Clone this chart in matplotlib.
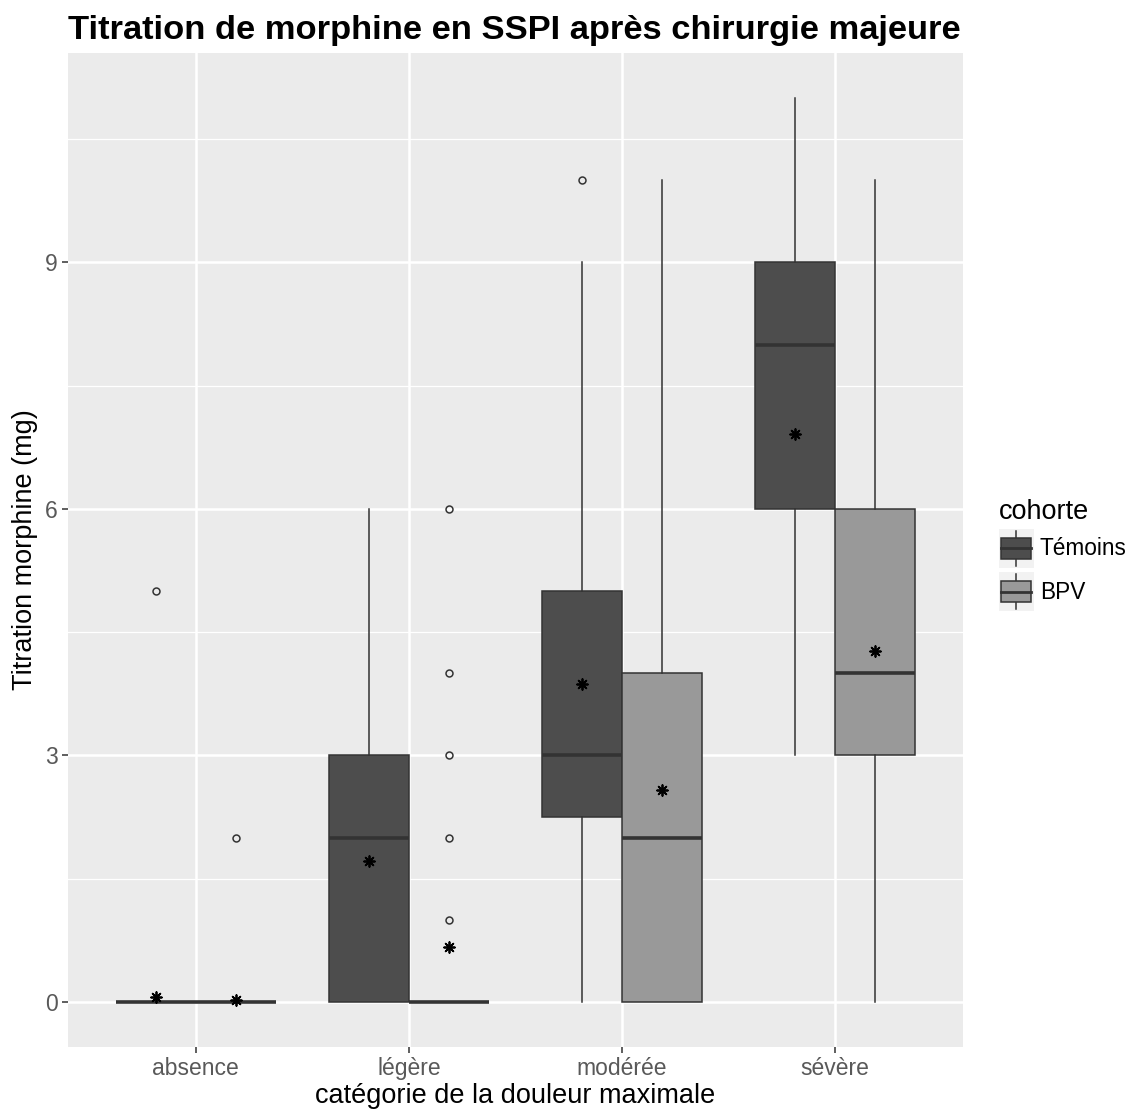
#
# Morphine titration boxplot (ggplot-like look)
#
import numpy as np
import matplotlib.pyplot as plt
from matplotlib.legend_handler import HandlerBase
from matplotlib.patches import Rectangle
from matplotlib.lines import Line2D

plt.rcParams['font.family'] = ['Liberation Sans', 'DejaVu Sans']

# Data
groups = ['absence', 'légère', 'modérée', 'sévère']
cohorts = ['Témoins', 'BPV']

temoins_wlo = [0, 0, 0, 3]
temoins_q1 = [0, 0, 2.25, 6]
temoins_med = [0, 2, 3, 8]
temoins_q3 = [0, 3, 5, 9]
temoins_whi = [0, 6, 9, 11]
temoins_out = [[5], [], [10], []]
temoins_mean = [0.06, 1.71, 3.87, 6.91]

bpv_wlo = [0, 0, 0, 0]
bpv_q1 = [0, 0, 0, 3]
bpv_med = [0, 0, 2, 4]
bpv_q3 = [0, 0, 4, 6]
bpv_whi = [0, 0, 10, 10]
bpv_out = [[2], [1, 2, 3, 4, 6], [], []]
bpv_mean = [0.02, 0.67, 2.58, 4.27]

yTicks = [0, 3, 6, 9]
yMinor = [1.5, 4.5, 7.5, 10.5]

# Styles
fillCol = {'Témoins': '#4d4d4d', 'BPV': '#999999'}
lineCol = '#333333'
panelCol = '#ebebeb'
boxW = 0.375


def make_stats(wlo, q1, med, q3, whi, out):
    stats = []
    for i in range(len(med)):
        stats.append(dict(whislo=wlo[i], q1=q1[i], med=med[i], q3=q3[i],
                          whishi=whi[i], fliers=out[i]))
    return stats


W, H = 1141, 1118
fig = plt.figure(figsize=[W/100, H/100], dpi=100, facecolor='white')
ax = fig.add_axes([68/W, (H-1047)/H, (963-68)/W, (1047-53)/H])
ax.set_facecolor(panelCol)

xPos = np.arange(1, len(groups)+1)
series = [
    ('Témoins', make_stats(temoins_wlo, temoins_q1, temoins_med, temoins_q3,
                           temoins_whi, temoins_out), temoins_mean, -boxW/2),
    ('BPV', make_stats(bpv_wlo, bpv_q1, bpv_med, bpv_q3,
                       bpv_whi, bpv_out), bpv_mean, boxW/2),
]

for name, stats, means, off in series:
    ax.bxp(stats, positions=xPos+off, widths=boxW, patch_artist=True,
           showcaps=False, manage_ticks=False,
           boxprops=dict(facecolor=fillCol[name], edgecolor=lineCol, linewidth=1.1),
           medianprops=dict(color=lineCol, linewidth=2.6, solid_capstyle='butt'),
           whiskerprops=dict(color=lineCol, linewidth=1.1),
           flierprops=dict(marker='o', markerfacecolor='none',
                           markeredgecolor=lineCol, markersize=5,
                           markeredgewidth=1.1),
           zorder=3)
    ax.scatter(xPos+off, means, marker=(8, 2, 0), s=60, color='black',
               linewidths=1.3, zorder=5)

# grid
ax.set_xlim(0.4, 4.6)
ax.set_ylim(-0.55, 11.55)
ax.set_yticks(yTicks)
ax.set_yticks(yMinor, minor=True)
ax.set_xticks(xPos)
ax.set_xticklabels(groups)
ax.grid(which='major', color='white', linewidth=1.8, zorder=0)
ax.grid(which='minor', axis='y', color='white', linewidth=0.9, zorder=0)
ax.set_axisbelow(True)
for axis in ['top', 'bottom', 'left', 'right']:
    ax.spines[axis].set_visible(False)
ax.tick_params(axis='both', which='major', colors=lineCol, length=4.5, width=1.1,
               labelsize=16.5, labelcolor='#595959', pad=3)
ax.tick_params(axis='y', which='minor', length=0)

ax.set_xlabel('catégorie de la douleur maximale', fontsize=19.5, color='black', labelpad=2)
ax.set_ylabel('Titration morphine (mg)', fontsize=19.5, color='black', labelpad=5)

fig.text(68/W, 1-31/H, 'Titration de morphine en SSPI après chirurgie majeure',
         fontsize=24.8, fontweight='bold', ha='left', va='center')


# legend keys drawn like ggplot boxplot keys
class BoxKey(HandlerBase):
    def __init__(self, fc):
        super().__init__()
        self.fc = fc

    def create_artists(self, legend, orig_handle, xdescent, ydescent, width,
                       height, fontsize, trans):
        x0, y0 = -xdescent, -ydescent
        bg = Rectangle((x0, y0), width, height, facecolor='#f2f2f2',
                       edgecolor='none', transform=trans)
        cx = x0 + width/2
        whisk = Line2D([cx, cx], [y0+height*0.04, y0+height*0.96],
                       color=lineCol, linewidth=1.1, transform=trans)
        box = Rectangle((x0+width*0.08, y0+height*0.22), width*0.84,
                        height*0.56, facecolor=self.fc, edgecolor=lineCol,
                        linewidth=1.1, transform=trans)
        med = Line2D([x0+width*0.08, x0+width*0.92],
                     [y0+height/2]*2, color=lineCol, linewidth=2,
                     transform=trans)
        return [bg, whisk, box, med]


handles = [Rectangle((0, 0), 1, 1) for c in cohorts]
handler_map = {h: BoxKey(fillCol[c]) for h, c in zip(handles, cohorts)}
leg = fig.legend(handles, cohorts, handler_map=handler_map, loc='upper left',
                 bbox_to_anchor=(994/W, 1-494/H), frameon=False,
                 fontsize=16.3, title='cohorte', title_fontsize=19.5,
                 alignment='left', handlelength=1.55, handleheight=2.25,
                 handletextpad=0.28, labelspacing=0.2, borderpad=0.2,
                 borderaxespad=0)

plt.savefig('out.png', dpi=100, facecolor='white')
